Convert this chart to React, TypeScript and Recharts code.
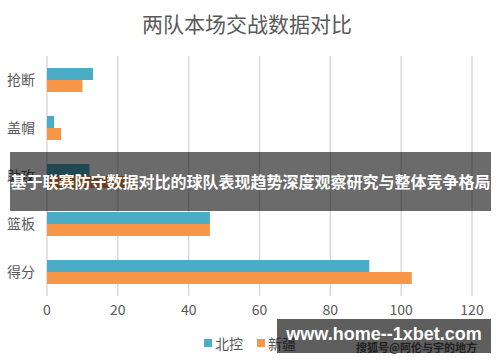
import React from 'react';
import { BarChart, Bar, XAxis, YAxis, CartesianGrid, Legend } from 'recharts';

const categories = ['抢断', '盖帽', '助攻', '篮板', '得分'];
const beikong = [13, 2, 12, 46, 91];
const xinjiang = [10, 4, 24, 46, 103];
const xTicks = [0, 20, 40, 60, 80, 100, 120];
const seriesNames = ['北控', '新疆'];
const title = '两队本场交战数据对比';
const banner = '基于联赛防守数据对比的球队表现趋势深度观察研究与整体竞争格局';
const siteText = 'www.home--1xbet.com';
const watermark = '搜狐号@阿伦与宇的地方';

const data = categories.map((c, i) => ({ name: c, a: beikong[i], b: xinjiang[i] }));

const FONT = '"Noto Sans CJK SC", "Noto Sans", sans-serif';
const BLUE = '#4BACC6';
const ORANGE = '#F79646';
const TEXT = '#595959';

const renderLegend = (props: any) => {
  const { payload } = props;
  return (
    <div style={{ display: 'flex', justifyContent: 'center', fontFamily: FONT, fontSize: 14, color: TEXT }}>
      {payload.map((p: any, i: number) => (
        <div key={i} style={{ display: 'flex', alignItems: 'center', marginLeft: i ? 14 : 0 }}>
          <span style={{ width: 8, height: 8, background: p.color, display: 'inline-block', marginRight: 3 }} />
          <span>{p.value}</span>
        </div>
      ))}
    </div>
  );
};

export default function App() {
  return (
    <div style={{ position: 'absolute', left: 0, top: 0, width: 500, height: 362, background: '#fff', overflow: 'hidden', fontFamily: FONT }}>
      <div style={{ position: 'absolute', left: 0, top: 8, width: 494, textAlign: 'center', fontSize: 21, color: TEXT, lineHeight: '30px' }}>
        {title}
      </div>
      <BarChart
        width={500}
        height={362}
        data={data}
        layout="vertical"
        margin={{ top: 56, right: 28, left: 0, bottom: 16 }}
        barGap={0}
        barCategoryGap="25%"
      >
        <CartesianGrid horizontal={false} stroke="#d9d9d9" strokeWidth={1.5} />
        <XAxis
          type="number"
          domain={[0, 120]}
          ticks={xTicks}
          axisLine={false}
          tickLine={false}
          tick={{ fill: TEXT, fontSize: 14, fontFamily: FONT }}
          height={30}
          tickMargin={3}
        />
        <YAxis
          type="category"
          dataKey="name"
          axisLine={false}
          tickLine={false}
          width={47}
          tick={{ fill: TEXT, fontSize: 14, fontFamily: FONT }}
          tickMargin={6}
        />
        <Legend verticalAlign="bottom" content={renderLegend} wrapperStyle={{ position: 'absolute', top: 333, left: 0, width: 500 }} />
        <Bar dataKey="a" name={seriesNames[0]} fill={BLUE} barSize={12} isAnimationActive={false} />
        <Bar dataKey="b" name={seriesNames[1]} fill={ORANGE} barSize={12} isAnimationActive={false} />
      </BarChart>
      <div style={{ position: 'absolute', left: 10, top: 152, width: 481, height: 59, background: 'rgba(0,0,0,0.58)', color: '#fff', fontWeight: 700, fontSize: 16, lineHeight: '59px', textAlign: 'center', whiteSpace: 'nowrap', letterSpacing: 0 }}>
        {banner}
      </div>
      <div style={{ position: 'absolute', left: 356, top: 340, fontSize: 11, color: '#222', fontWeight: 700, whiteSpace: 'nowrap', opacity: 0.75, lineHeight: '14px' }}>
        {watermark}
      </div>
      <div style={{ position: 'absolute', left: 277, top: 319, width: 214, height: 34, background: 'rgba(0,0,0,0.63)', color: '#fff', fontWeight: 700, fontSize: 18, lineHeight: '30px', textAlign: 'center', whiteSpace: 'nowrap', fontFamily: '"Liberation Sans", sans-serif' }}>
        {siteText}
      </div>
    </div>
  );
}
